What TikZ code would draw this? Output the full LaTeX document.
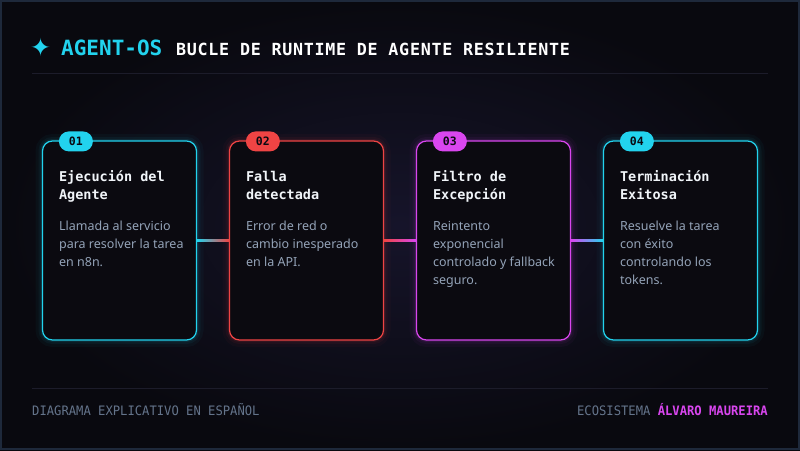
\documentclass[tikz,border=0pt]{standalone}
\usepackage{fontspec}
\setmainfont{Noto Sans}
\newfontfamily\monof{DejaVu Sans Mono}
\newfontfamily\hdrf{DejaVu Sans Mono}[LetterSpace=4.2]
\newfontfamily\symf{DejaVu Sans}
\usetikzlibrary{calc}
\definecolor{bgout}{HTML}{09090F}
\definecolor{bgin}{HTML}{16142A}
\definecolor{cardfill}{HTML}{0B0A10}
\definecolor{ccyan}{HTML}{22D3EE}
\definecolor{cred}{HTML}{EF4444}
\definecolor{cmag}{HTML}{D946EF}
\definecolor{ttl}{HTML}{F1F5F9}
\definecolor{bodyc}{HTML}{94A3B8}
\definecolor{footc}{HTML}{64748B}
\definecolor{rulec}{HTML}{1C1C2A}
\definecolor{framec}{HTML}{1E293B}
\definecolor{badgetxt}{HTML}{0A0A12}
\tikzset{
 card/.style={draw=#1, line width=1.2pt, fill=cardfill, rounded corners=10pt,
   minimum width=154pt, minimum height=199pt, inner sep=0pt,
   preaction={draw=#1, draw opacity=0.035, line width=14pt},
   preaction={draw=#1, draw opacity=0.05, line width=8pt},
   preaction={draw=#1, draw opacity=0.09, line width=4pt}},
 badge/.style={fill=#1, rounded corners=10pt, minimum width=34pt, minimum height=20pt,
   inner sep=0pt, text=badgetxt, font=\monof\bfseries\fontsize{11.5}{11.5}\selectfont},
 ctitle/.style={anchor=base west, inner sep=0pt, text=ttl,
   font=\monof\bfseries\fontsize{13.5}{13.5}\selectfont},
 cbody/.style={anchor=base west, inner sep=0pt, text=bodyc,
   font=\fontsize{12.5}{12.5}\selectfont},
 foot/.style={inner sep=0pt, text=footc, font=\monof\fontsize{13}{13}\selectfont},
}
\begin{document}
\begin{tikzpicture}[x=1pt,y=-1pt]
\useasboundingbox (0,0) rectangle (800,450);
\fill[bgout] (0,0) rectangle (800,450);
\shade[inner color=bgin, outer color=bgout] (0,0) rectangle (800,450);
\draw[framec, line width=2pt] (1,1) rectangle (799,449);

% header
\node[text=ccyan, font=\symf\fontsize{25}{25}\selectfont, inner sep=0pt] (star) at (40.5,47) {✦};
\node[anchor=base west, inner sep=0pt, text=ccyan, font=\monof\bfseries\fontsize{21}{21}\selectfont] (brand) at (61,55.5) {AGENT-OS};
\node[anchor=base west, inner sep=0pt, text=white, font=\hdrf\bfseries\fontsize{16.7}{16.7}\selectfont] (htitle) at (176,55) {BUCLE DE RUNTIME DE AGENTE RESILIENTE};
\draw[rulec, line width=1pt] (32,73) -- (768,73);

% cards
\node[card=ccyan] (c1) at (119.5,240.5) {};
\node[card=cred]  (c2) at (306.5,240.5) {};
\node[card=cmag]  (c3) at (493.5,240.5) {};
\node[card=ccyan] (c4) at (680.5,240.5) {};

% connectors
\shade[left color=ccyan, right color=cred] ($(c1.east)+(0,-1)$) rectangle ($(c2.west)+(0,1)$);
\shade[left color=cred, right color=cmag] ($(c2.east)+(0,-1)$) rectangle ($(c3.west)+(0,1)$);
\shade[left color=cmag, right color=ccyan] ($(c3.east)+(0,-1)$) rectangle ($(c4.west)+(0,1)$);

% badges
\node[badge=ccyan] (b1) at ($(c1.north west)+(34,1)$) {01};
\node[badge=cred]  (b2) at ($(c2.north west)+(34,1)$) {02};
\node[badge=cmag]  (b3) at ($(c3.north west)+(34,1)$) {03};
\node[badge=ccyan] (b4) at ($(c4.north west)+(34,1)$) {04};

% card 1
\node[ctitle] (t1a) at ($(c1.north west)+(17,41)$) {Ejecución del};
\node[ctitle] (t1b) at ($(c1.north west)+(17,59.5)$) {Agente};
\node[cbody] (d1a) at ($(c1.north west)+(17,90)$) {Llamada al servicio};
\node[cbody] (d1b) at ($(c1.north west)+(17,108)$) {para resolver la tarea};
\node[cbody] (d1c) at ($(c1.north west)+(17,126)$) {en n8n.};
% card 2
\node[ctitle] (t2a) at ($(c2.north west)+(17,41)$) {Falla};
\node[ctitle] (t2b) at ($(c2.north west)+(17,59.5)$) {detectada};
\node[cbody] (d2a) at ($(c2.north west)+(17,90)$) {Error de red o};
\node[cbody] (d2b) at ($(c2.north west)+(17,108)$) {cambio inesperado};
\node[cbody] (d2c) at ($(c2.north west)+(17,126)$) {en la API.};
% card 3
\node[ctitle] (t3a) at ($(c3.north west)+(17,41)$) {Filtro de};
\node[ctitle] (t3b) at ($(c3.north west)+(17,59.5)$) {Excepción};
\node[cbody] (d3a) at ($(c3.north west)+(17,90)$) {Reintento};
\node[cbody] (d3b) at ($(c3.north west)+(17,108)$) {exponencial};
\node[cbody] (d3c) at ($(c3.north west)+(17,126)$) {controlado y fallback};
\node[cbody] (d3d) at ($(c3.north west)+(17,144)$) {seguro.};
% card 4
\node[ctitle] (t4a) at ($(c4.north west)+(17,41)$) {Terminación};
\node[ctitle] (t4b) at ($(c4.north west)+(17,59.5)$) {Exitosa};
\node[cbody] (d4a) at ($(c4.north west)+(17,90)$) {Resuelve la tarea};
\node[cbody] (d4b) at ($(c4.north west)+(17,108)$) {con éxito};
\node[cbody] (d4c) at ($(c4.north west)+(17,126)$) {controlando los};
\node[cbody] (d4d) at ($(c4.north west)+(17,144)$) {tokens.};

% footer
\draw[rulec, line width=1pt] (32,388) -- (768,388);
\node[foot, anchor=base west] (fl) at (32,415) {\scalebox{0.937}[1]{DIAGRAMA EXPLICATIVO EN ESPAÑOL}};
\node[foot, anchor=base east] (fr) at (768,415) {\scalebox{0.937}[1]{ECOSISTEMA \textcolor{cmag}{\bfseries ÁLVARO MAUREIRA}}};
\end{tikzpicture}
\end{document}
